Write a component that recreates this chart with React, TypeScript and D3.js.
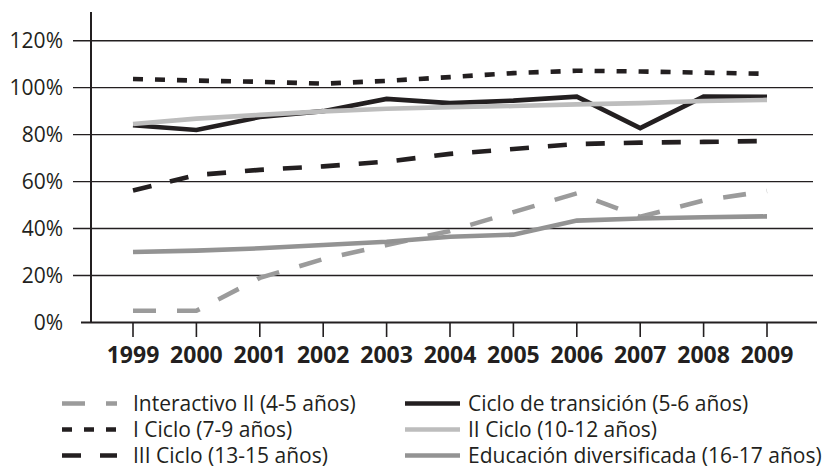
import React, { useEffect, useRef } from 'react';
import * as d3 from 'd3';

const years = ['1999', '2000', '2001', '2002', '2003', '2004', '2005', '2006', '2007', '2008', '2009'];
const yTicks = [0, 20, 40, 60, 80, 100, 120];

const interactivo = [5, 5, 19, 27, 33, 39, 47, 55, 45, 52, 56];
const transicion = [84, 82, 87.5, 90, 95.2, 93.4, 94.5, 96.2, 82.8, 96.2, 96.1];
const iCiclo = [103.7, 103, 102.5, 101.7, 102.9, 104.5, 106.2, 107.2, 106.9, 106.4, 105.9];
const iiCiclo = [84.5, 86.8, 88.4, 89.9, 91, 91.7, 92.2, 92.9, 93.4, 94.3, 94.8];
const iiiCiclo = [56.2, 62.8, 65, 66.5, 68.5, 71.8, 73.9, 76, 76.6, 76.9, 77.3];
const educacion = [30, 30.6, 31.6, 33, 34.4, 36.5, 37.4, 43.4, 44.3, 44.8, 45.2];

const seriesNames = [
  'Interactivo II (4-5 años)',
  'Ciclo de transición (5-6 años)',
  'I Ciclo (7-9 años)',
  'II Ciclo (10-12 años)',
  'III Ciclo (13-15 años)',
  'Educación diversificada (16-17 años)',
];

const INK = '#231f20';

const App: React.FC = () => {
  const svgRef = useRef<SVGSVGElement>(null);

  useEffect(() => {
    if (!svgRef.current) return;
    const svg = d3.select(svgRef.current);
    svg.selectAll('*').remove();

    const series = [
      { name: seriesNames[0], values: interactivo, color: '#9b9b9b', dash: '23,21', col: 0, row: 0 },
      { name: seriesNames[1], values: transicion, color: INK, dash: null, col: 1, row: 0 },
      { name: seriesNames[2], values: iCiclo, color: INK, dash: '10,12', col: 0, row: 1 },
      { name: seriesNames[3], values: iiCiclo, color: '#bdbdbd', dash: null, col: 1, row: 1 },
      { name: seriesNames[4], values: iiiCiclo, color: INK, dash: '19,19', col: 0, row: 2 },
      { name: seriesNames[5], values: educacion, color: '#939393', dash: null, col: 1, row: 2 },
    ];

    const x = d3.scalePoint<string>().domain(years).range([133, 767]);
    const y = d3.scaleLinear().domain([0, 120]).range([322.5, 40.7]);

    // gridlines + y labels
    yTicks.forEach(t => {
      if (t > 0) {
        svg.append('line')
          .attr('x1', 73).attr('x2', 813)
          .attr('y1', y(t)).attr('y2', y(t))
          .attr('stroke', INK).attr('stroke-width', 1.4);
      }
      svg.append('text')
        .attr('x', 63).attr('y', y(t) + 7.5)
        .attr('text-anchor', 'end')
        .attr('fill', INK)
        .style('font-family', '"Open Sans", sans-serif')
        .style('font-size', '21px')
        .text(`${t}%`);
    });

    // axes
    svg.append('line')
      .attr('x1', 91).attr('x2', 91).attr('y1', 12).attr('y2', y(0))
      .attr('stroke', INK).attr('stroke-width', 2);
    svg.append('line')
      .attr('x1', 81).attr('x2', 817).attr('y1', y(0)).attr('y2', y(0))
      .attr('stroke', INK).attr('stroke-width', 2);

    years.forEach(yr => {
      svg.append('line')
        .attr('x1', x(yr)!).attr('x2', x(yr)!).attr('y1', y(0)).attr('y2', 337)
        .attr('stroke', INK).attr('stroke-width', 1.6);
      svg.append('text')
        .attr('x', x(yr)!).attr('y', 363)
        .attr('text-anchor', 'middle')
        .attr('fill', INK)
        .style('font-family', '"Open Sans", sans-serif')
        .style('font-size', '23px')
        .style('font-weight', 'bold')
        .text(yr);
    });

    const line = d3.line<number>()
      .x((d, i) => x(years[i])!)
      .y(d => y(d));

    series.forEach(s => {
      svg.append('path')
        .datum(s.values)
        .attr('d', line)
        .attr('fill', 'none')
        .attr('stroke', s.color)
        .attr('stroke-width', 4.6)
        .attr('stroke-dasharray', s.dash ?? null);
    });

    // legend
    const colX = [{ x1: 62, x2: 117, tx: 133 }, { x1: 405, x2: 460, tx: 468 }];
    const rowY = [403.5, 429.5, 455.5];
    series.forEach(s => {
      const c = colX[s.col];
      const ry = rowY[s.row];
      svg.append('line')
        .attr('x1', c.x1).attr('x2', c.x2).attr('y1', ry).attr('y2', ry)
        .attr('stroke', s.color)
        .attr('stroke-width', 4.6)
        .attr('stroke-dasharray', s.dash ?? null);
      svg.append('text')
        .attr('x', c.tx).attr('y', ry + 7)
        .attr('fill', INK)
        .style('font-family', '"Open Sans", sans-serif')
        .style('font-size', '21px')
        .text(s.name);
    });
  }, []);

  return (
    <div style={{ position: 'absolute', left: 0, top: 0 }}>
      <svg ref={svgRef} width="835" height="467" style={{ display: 'block', background: '#fff' }}></svg>
    </div>
  );
};

export default App;
